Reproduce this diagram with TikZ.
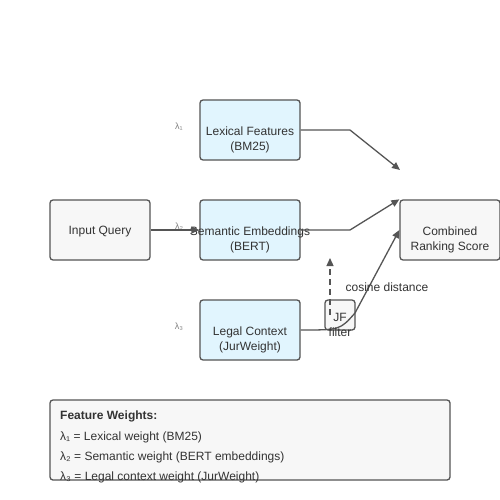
\documentclass[tikz,border=0pt]{standalone}
\usepackage{fontspec}
\setmainfont{Liberation Sans}
\usetikzlibrary{arrows.meta}
\definecolor{edge}{HTML}{555555}
\definecolor{txt}{HTML}{333333}
\definecolor{bluefill}{HTML}{E1F5FE}
\definecolor{grayfill}{HTML}{F7F7F7}
\tikzset{
  box/.style={draw=edge, line width=1.3pt, rounded corners=3pt, minimum width=100pt, minimum height=60pt, inner sep=0pt},
  bluebox/.style={box, fill=bluefill},
  graybox/.style={box, fill=grayfill},
  lbl/.style={text=txt, font=\fontsize{12}{15}\selectfont, align=center, inner sep=0pt},
  lam/.style={text=gray, font=\fontsize{9}{10}\selectfont, inner sep=0pt},
  conn/.style={draw=edge, line width=1.3pt, -{Triangle[length=8pt,width=7pt]}}
}
\begin{document}
\begin{tikzpicture}[x=1pt,y=-1pt]
\useasboundingbox (0,0) rectangle (500,500);
\fill[white] (0,0) rectangle (500,500);
% boxes
\node[graybox] (input) at (100,230) {};
\node[bluebox] (lex) at (250,130) {};
\node[bluebox] (sem) at (250,230) {};
\node[bluebox] (legal) at (250,330) {};
\node[graybox] (comb) at (450,230) {};
\node[graybox, minimum width=30pt, minimum height=30pt] (jf) at (340,315) {};
% texts
\node[lbl] (inputt) at (100,231.5) {Input Query};
\node[lbl] (lext) at (250,139.5) {Lexical Features\\(BM25)};
\node[lbl] (semt) at (250,239.5) {Semantic Embeddings\\(BERT)};
\node[lbl] (legalt) at (250,339.5) {Legal Context\\(JurWeight)};
\node[lbl] (combt) at (450,239.5) {Combined\\Ranking Score};
% lambda labels
\node[lam] (l1) at (179,127) {λ₁};
\node[lam] (l2) at (179,227) {λ₂};
\node[lam] (l3) at (179,327) {λ₃};
% connectors
\coordinate (lexend) at (400,170);
\coordinate (dashtop) at (330,258);
\coordinate (dashbot) at (330,315);
\draw[conn] (input.east) -- (sem.west);
\draw[conn] (lex.east) -- (350,130) -- (lexend);
\draw[conn] (sem.east) -- (350,230) -- (comb.north west);
\draw[conn] (legal.east) .. controls (340,330) .. (355,313) -- (comb.west);
\draw[conn, dashed, dash pattern=on 6pt off 4pt] (dashbot) -- (dashtop);
\node[lbl] (jft) at (340,324.5) {JF\\filter};
\node[lbl] (cos) at (387,287) {cosine distance};
% legend
\node[graybox, minimum width=400pt, minimum height=80pt] (legend) at (250,440) {};
\node[lbl, anchor=west, font=\fontsize{12}{15}\selectfont\bfseries] (lg0) at (60,416) {Feature Weights:};
\node[lbl, anchor=west] (lg1) at (60,437) {λ₁ = Lexical weight (BM25)};
\node[lbl, anchor=west] (lg2) at (60,457) {λ₂ = Semantic weight (BERT embeddings)};
\node[lbl, anchor=west] (lg3) at (60,477) {λ₃ = Legal context weight (JurWeight)};
\end{tikzpicture}
\end{document}
